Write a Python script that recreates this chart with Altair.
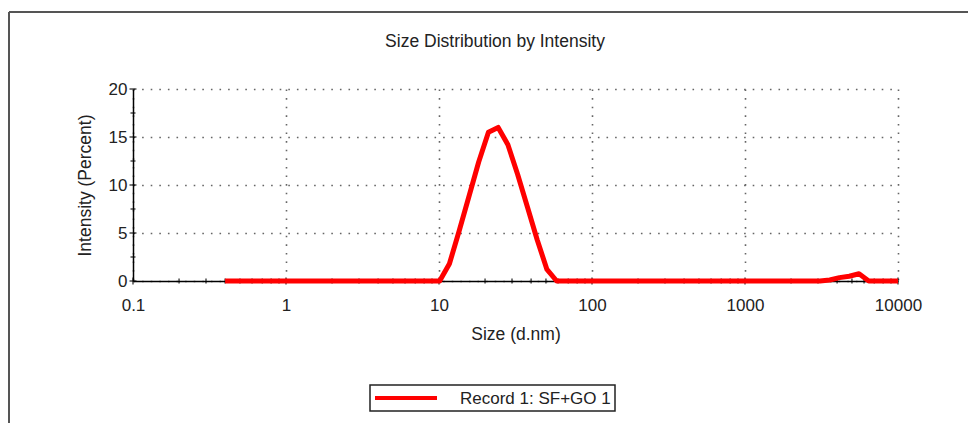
import altair as alt
import pandas as pd

# Size classes (d.nm) of the DLS report
sizes = [
    0.4, 0.4632, 0.5365, 0.6213, 0.7195, 0.8332, 0.9649, 1.117, 1.294, 1.499,
    1.736, 2.010, 2.328, 2.696, 3.122, 3.615, 4.187, 4.849, 5.615, 6.503,
    7.531, 8.721, 10.10, 11.70, 13.54, 15.69, 18.17, 21.04, 24.36, 28.21,
    32.67, 37.84, 43.82, 50.75, 58.77, 68.06, 78.82, 91.28, 105.7, 122.4,
    141.8, 164.2, 190.1, 220.2, 255.0, 295.3, 342.0, 396.1, 458.7, 531.2,
    615.1, 712.4, 825.0, 955.4, 1106, 1281, 1484, 1718, 1990, 2305,
    2669, 3091, 3580, 4145, 4801, 5560, 6439, 7456, 8635, 10000,
]

# Intensity (Percent) in each size class
intensity = [
    0, 0, 0, 0, 0, 0, 0, 0, 0, 0,
    0, 0, 0, 0, 0, 0, 0, 0, 0, 0,
    0, 0, 0, 1.8, 5.2, 8.8, 12.4, 15.5, 16.0, 14.2,
    11.1, 7.7, 4.3, 1.2, 0, 0, 0, 0, 0, 0,
    0, 0, 0, 0, 0, 0, 0, 0, 0, 0,
    0, 0, 0, 0, 0, 0, 0, 0, 0, 0,
    0, 0, 0.1, 0.35, 0.5, 0.75, 0, 0, 0, 0,
]

record_name = "Record 1: SF+GO 1"
chart_title = "Size Distribution by Intensity"

x_major = [0.1, 1, 10, 100, 1000, 10000]
y_major = [0, 5, 10, 15, 20]
x_minor = [m * d for d in [0.1, 1, 10, 100, 1000] for m in range(2, 10)]
y_minor = [2.5, 7.5, 12.5, 17.5]

FONT = "Liberation Sans"
TEXT = "#222222"
RED = "#ff0000"

df = pd.DataFrame({"size": sizes, "intensity": intensity, "record": record_name})

x_scale = alt.Scale(type="log", domain=[0.1, 10000], nice=False)
y_scale = alt.Scale(domain=[0, 20], nice=False, zero=True)

x_axis = alt.Axis(
    values=x_major, format="~g", title="Size (d.nm)",
    grid=True, gridDash=[1.6, 7], gridColor="#666666", gridWidth=1.6,
    ticks=False, domainColor="#000000", domainWidth=1.5,
    labelFont=FONT, labelFontSize=17, labelColor=TEXT, labelPadding=16,
    labelFlush=False, labelOverlap=False,
    titleFont=FONT, titleFontSize=17.5, titleFontWeight="normal",
    titleColor=TEXT, titlePadding=12,
)
y_axis = alt.Axis(
    values=y_major, title="Intensity (Percent)",
    grid=True, gridDash=[1.6, 7], gridColor="#666666", gridWidth=1.6,
    ticks=False, domainColor="#000000", domainWidth=1.5,
    labelFont=FONT, labelFontSize=17, labelColor=TEXT, labelPadding=6,
    labelFlush=False, labelOverlap=False,
    titleFont=FONT, titleFontSize=17.5, titleFontWeight="normal",
    titleColor=TEXT, titlePadding=14,
)

X = alt.X("size:Q", scale=x_scale, axis=x_axis)
Y = alt.Y("intensity:Q", scale=y_scale, axis=y_axis)

line = alt.Chart(df).mark_line(strokeWidth=5, strokeJoin="round").encode(
    x=X,
    y=Y,
    color=alt.Color("record:N", scale=alt.Scale(range=[RED]), legend=None),
)

# Tick marks crossing the axis lines
xt_major = pd.DataFrame({"size": x_major, "intensity": 0})
xt_minor = pd.DataFrame({"size": x_minor, "intensity": 0})
yt_major = pd.DataFrame({"size": 0.1, "intensity": y_major})
yt_minor = pd.DataFrame({"size": 0.1, "intensity": y_minor})


def ticks(data, orient, size):
    return alt.Chart(data).mark_tick(
        orient=orient, size=size, thickness=1.5, color="#000000"
    ).encode(x=X, y=Y)


tick_layers = [
    ticks(xt_major, "vertical", 7),
    ticks(xt_minor, "vertical", 5),
    ticks(yt_major, "horizontal", 7),
    ticks(yt_minor, "horizontal", 5),
]

one = pd.DataFrame({"record": [record_name], "label": [chart_title]})

# Outer frame of the report panel
frame_top = alt.Chart(one).mark_rule(color="#555555", strokeWidth=2).encode(
    x=alt.value(-124), x2=alt.value(900), y=alt.value(-77)
)
frame_left = alt.Chart(one).mark_rule(color="#555555", strokeWidth=2).encode(
    x=alt.value(-124), y=alt.value(-77), y2=alt.value(400)
)

# Panel heading
heading = alt.Chart(one).mark_text(
    font=FONT, fontSize=17.5, color=TEXT, align="center", baseline="middle"
).encode(x=alt.value(362), y=alt.value(-47), text="label:N")

# Legend box below the plot
legend_box = alt.Chart(one).mark_rect(
    fill="white", stroke="#222222", strokeWidth=1.5
).encode(x=alt.value(237), x2=alt.value(482), y=alt.value(296), y2=alt.value(322))
legend_line = alt.Chart(one).mark_rule(strokeWidth=4).encode(
    x=alt.value(242), x2=alt.value(304), y=alt.value(309),
    color=alt.Color("record:N", scale=alt.Scale(range=[RED]), legend=None),
)
legend_text = alt.Chart(one).mark_text(
    font=FONT, fontSize=17, color=TEXT, align="left", baseline="middle"
).encode(x=alt.value(327), y=alt.value(310), text="record:N")

chart = alt.layer(
    frame_top, frame_left, *tick_layers, line,
    heading, legend_box, legend_line, legend_text,
).properties(
    width=765,
    height=192,
    autosize=alt.AutoSizeParams(type="none"),
    padding={"left": 133, "top": 89, "right": 70, "bottom": 142},
).configure(
    font=FONT, background="white"
).configure_view(stroke=None)

chart.save("out.html", embed_options={"renderer": "svg", "actions": False})
